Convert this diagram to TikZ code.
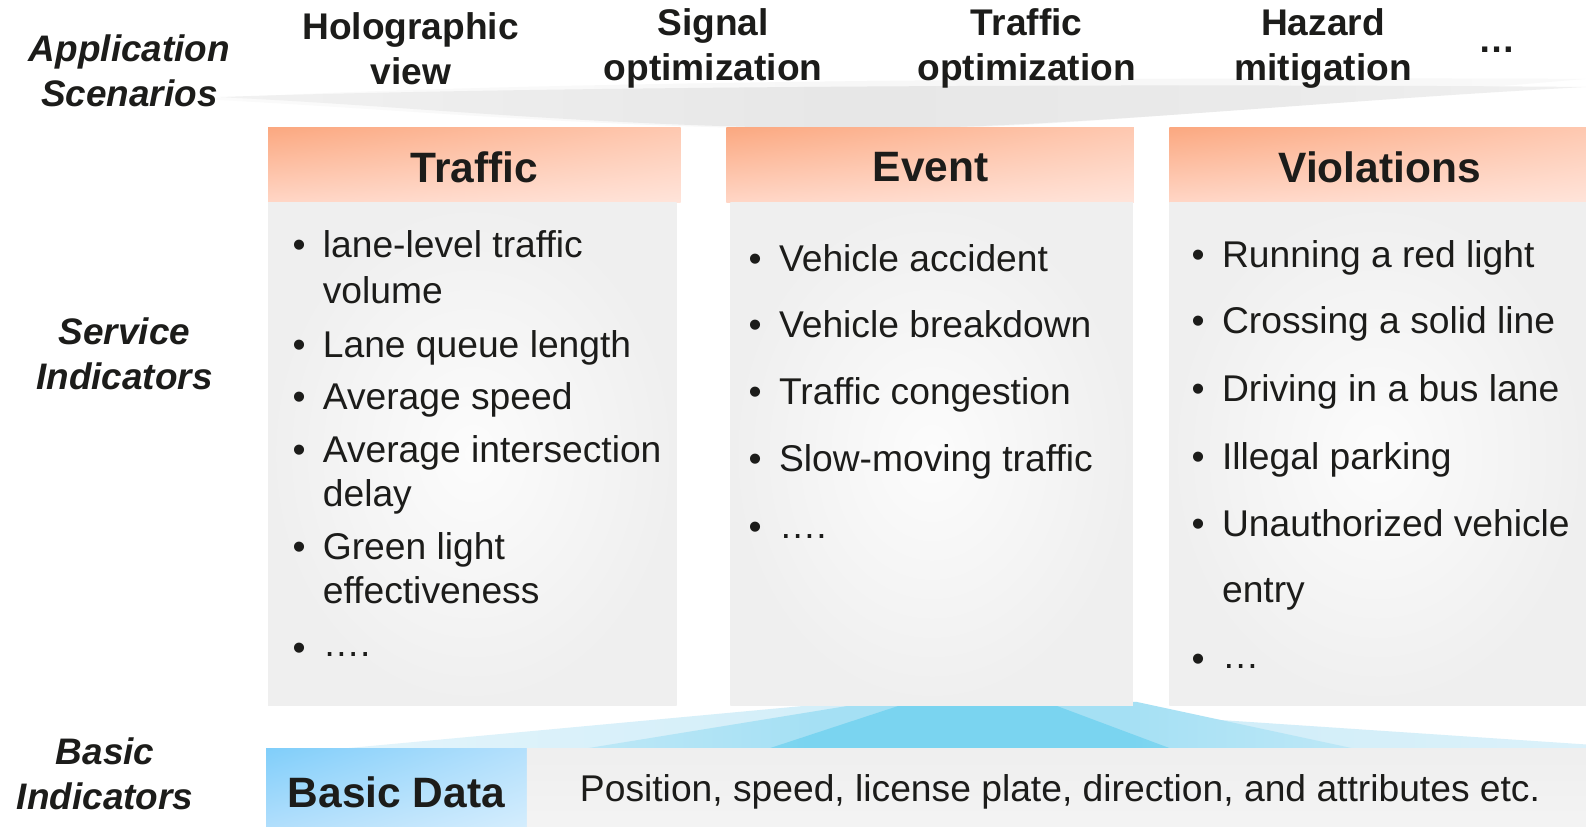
\documentclass[tikz,border=0pt]{standalone}
\usepackage{fontspec}
\setmainfont{Liberation Sans}
\usetikzlibrary{shadings}
\definecolor{txt}{HTML}{1C1C1A}
\definecolor{orA}{RGB}{251,168,128}
\definecolor{orB}{RGB}{254,200,176}
\definecolor{orC}{RGB}{255,214,198}
\definecolor{orD}{RGB}{255,228,218}
\definecolor{blA}{RGB}{128,206,250}
\definecolor{blB}{RGB}{180,224,252}
\definecolor{blC}{RGB}{176,222,252}
\definecolor{blD}{RGB}{212,237,253}
\definecolor{boxg}{RGB}{239,239,239}
\definecolor{boxw}{RGB}{252,252,252}
\definecolor{swa}{RGB}{205,236,248}
\definecolor{swb}{RGB}{165,224,244}
\definecolor{swc}{RGB}{122,212,240}
\pgfdeclarehorizontalshading{grayhalo}{100bp}{color(0bp)=(white); color(30bp)=(gray!4); color(55bp)=(gray!7); color(80bp)=(gray!4); color(100bp)=(white)}
\pgfdeclarehorizontalshading{grayswoosh}{100bp}{color(0bp)=(white); color(20bp)=(gray!9); color(48bp)=(gray!19); color(65bp)=(gray!16); color(85bp)=(gray!7); color(100bp)=(white)}
\pgfdeclarehorizontalshading{blueouter}{100bp}{color(0bp)=(white); color(35bp)=(swa!75); color(55bp)=(swa); color(80bp)=(swa!65); color(100bp)=(white)}
\pgfdeclarehorizontalshading{bluemid}{100bp}{color(0bp)=(swa!50); color(40bp)=(swb); color(60bp)=(swb); color(100bp)=(swa!50)}
\pgfdeclarehorizontalshading{blueinner}{100bp}{color(0bp)=(swb); color(30bp)=(swc); color(70bp)=(swc); color(100bp)=(swb)}
\begin{document}
\begin{tikzpicture}[x=1pt,y=-1pt,
  toplab/.style={font=\fontsize{36.7}{45}\selectfont\bfseries, align=center, text=txt, inner sep=0pt},
  sidelab/.style={font=\fontsize{36.5}{44}\selectfont\bfseries\itshape, align=center, text=txt, inner sep=0pt},
  hdr/.style={font=\fontsize{42}{48}\selectfont\bfseries, text=txt, inner sep=0pt},
  item/.style={font=\fontsize{36.8}{44}\selectfont, text=txt, anchor=base west, inner sep=0pt},
  hdrfill/.style={upper left=orA, upper right=orB, lower left=orC, lower right=orD},
  bodyfill/.style={inner color=boxw, outer color=boxg}
]
\useasboundingbox (0,0) rectangle (1568,817);
\fill[white] (0,0) rectangle (1568,817);

% top gray swoosh
\shade[shading=grayhalo]
  (200,98) .. controls (500,80) and (1100,76) .. (1568,78)
  .. controls (1300,100) and (1050,128) .. (860,128)
  .. controls (600,128) and (400,108) .. (200,98) -- cycle;
\shade[shading=grayswoosh]
  (215,96) .. controls (500,86) and (1100,82) .. (1568,86)
  .. controls (1300,100) and (1050,127) .. (860,127)
  .. controls (600,127) and (400,104) .. (215,96) -- cycle;

% bottom blue swoosh (three layers)
\shade[shading=blueouter]
  (329,741) -- (880,690) -- (1568,736) -- (1568,741) -- cycle;
\shade[shading=bluemid]
  (573,741) -- (862,694) -- (1124,694) -- (1343,741) -- cycle;
\shade[shading=blueinner]
  (757,741) -- (897,695) -- (1037,695) -- (1160,741) -- cycle;

% column headers
\shade[hdrfill] (265,126) rectangle (673,200);
\shade[hdrfill] (718,126) rectangle (1121,200);
\shade[hdrfill] (1156,126) rectangle (1568,200);
% column bodies
\shade[bodyfill] (265,200) rectangle (669,697);
\shade[bodyfill] (722,200) rectangle (1120,697);
\shade[bodyfill] (1156,200) rectangle (1568,697);

% basic data bar
\shade[upper left=blA, upper right=blB, lower left=blC, lower right=blD] (263,740) rectangle (521,817);
\shade[top color=gray!13, middle color=gray!3, bottom color=gray!9] (521,740) rectangle (1568,817);

% top labels
\node[sidelab] (appsc) at (128,70) {Application\\Scenarios};
\node[toplab] (holo) at (406,48) {Holographic\\view};
\node[toplab] (sigopt) at (705,48) {Signal\\optimization};
\node[toplab] (trafopt) at (1015,48) {Traffic\\optimization};
\node[toplab] (hazard) at (1308,48) {Hazard\\mitigation};
\node[toplab, anchor=base] (more) at (1480,52) {…};

% side labels
\node[sidelab] (servind) at (123,350) {Service\\Indicators};
\node[sidelab] (basind) at (104,765) {Basic\\Indicators};

% headers
\node[hdr] (htraffic) at (469,165) {Traffic};
\node[hdr] (hevent) at (920,165) {Event};
\node[hdr] (hviol) at (1364,165) {Violations};

% traffic items
\foreach \n/\y in {a/255,c/353,d/405,e/457,g/553,i/653}
  \node[item] (tb\n) at (289,\y) {•};
\node[item] (ta) at (319,255) {lane-level traffic};
\node[item] (tb) at (319,300) {volume};
\node[item] (tc) at (319,353) {Lane queue length};
\node[item] (td) at (319,405) {Average speed};
\node[item] (te) at (319,457) {Average intersection};
\node[item] (tf) at (319,501) {delay};
\node[item] (tg) at (319,553) {Green light};
\node[item] (th) at (319,597) {effectiveness};
\node[item] (ti) at (319,649) {….};

% event items
\foreach \n/\y in {a/268,b/334,c/400,d/466,e/533}
  \node[item] (eb\n) at (740,\y) {•};
\node[item] (ea) at (770,268) {Vehicle accident};
\node[item] (eb) at (770,334) {Vehicle breakdown};
\node[item] (ec) at (770,400) {Traffic congestion};
\node[item] (ed) at (770,466) {Slow-moving traffic};
\node[item] (ee) at (770,532) {….};

% violation items
\foreach \n/\y in {a/264,b/330,c/397,d/464,e/530,g/664}
  \node[item] (vb\n) at (1178,\y) {•};
\node[item] (va) at (1208,264) {Running a red light};
\node[item] (vb) at (1208,330) {Crossing a solid line};
\node[item] (vc) at (1208,397) {Driving in a bus lane};
\node[item] (vd) at (1208,464) {Illegal parking};
\node[item] (ve) at (1208,530) {Unauthorized vehicle};
\node[item] (vf) at (1208,596) {entry};
\node[item] (vg) at (1208,661) {…};

% basic data
\node[hdr] (bdata) at (392,783) {Basic Data};
\node[font=\fontsize{36.8}{42}\selectfont, text=txt, inner sep=0pt] (bdesc) at (1048,783) {Position, speed, license plate, direction, and attributes etc.};
\end{tikzpicture}
\end{document}
